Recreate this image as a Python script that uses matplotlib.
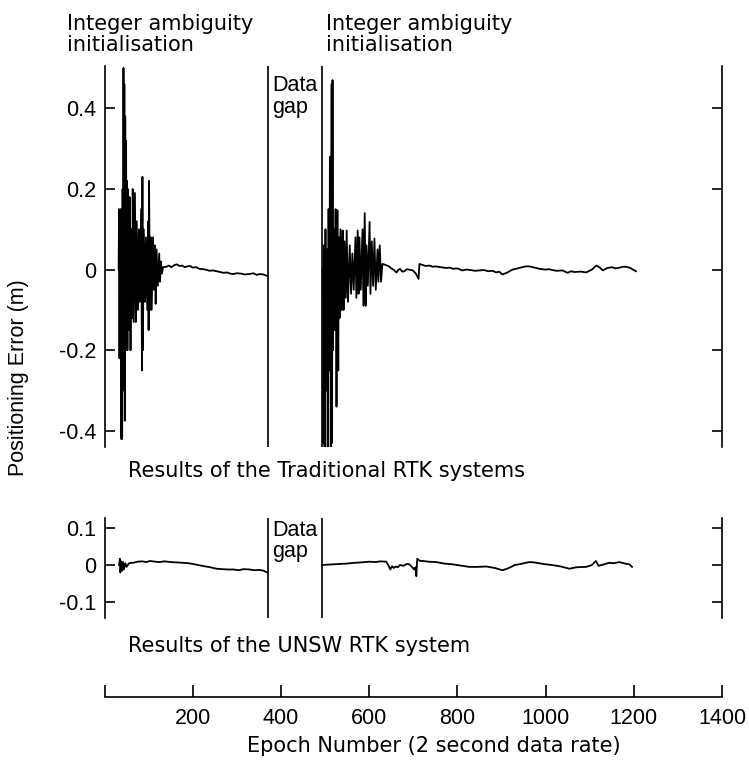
import matplotlib
matplotlib.use('Agg')
from matplotlib import pyplot as plt

plt.rcParams['font.family'] = ['Liberation Sans', 'DejaVu Sans']

# Traditional RTK, before the data gap (epoch, error in m)
trad_x1 = [32, 33, 34, 35, 36, 37, 38, 39, 40, 41, 42, 43, 44, 45, 46, 47, 48, 49, 50, 51, 52, 53, 55, 57, 59,
           61, 63, 64, 66, 69, 71, 73, 76, 78, 80, 83, 85, 86, 87, 89, 92, 94, 97, 99, 100, 101, 103, 105, 107,
           110, 112, 114, 116, 118, 121, 124, 126, 128, 130, 133,
           140, 146, 152, 158, 164, 170, 176, 182, 188, 194, 200, 208, 215, 222, 230, 238, 246, 254, 262, 270,
           278, 285, 292, 300, 310, 318, 329, 337, 345, 352, 360, 367, 370]
trad_y1 = [0.0, 0.15, -0.22, 0.12, -0.2, 0.15, -0.42, 0.1, -0.42, 0.2, -0.3, 0.5, -0.1, 0.46, -0.375, 0.38,
           -0.2, 0.32, -0.18, 0.22, -0.2, 0.2, -0.15, 0.18, -0.2, 0.1, -0.12, 0.2, -0.13, 0.19, -0.13, 0.12,
           -0.1, 0.1, -0.08, 0.15, -0.25, 0.23, -0.2, 0.1, -0.08, 0.08, -0.1, 0.12, -0.15, 0.22, -0.1, 0.08,
           -0.1, 0.08, -0.05, 0.06, -0.085, 0.05, -0.04, 0.04, -0.03, 0.02, -0.01, 0.006,
           0.007, 0.01, 0.006, 0.011, 0.013, 0.009, 0.01, 0.006, 0.008, 0.009, 0.005, 0.006, 0.002, 0.001,
           0.0, -0.003, -0.002, -0.004, -0.006, -0.008, -0.007, -0.01, -0.011, -0.009, -0.01, -0.012, -0.011,
           -0.009, -0.013, -0.011, -0.012, -0.015, -0.016]

# Traditional RTK, after the data gap
trad_x2 = [495, 496, 497, 499, 501, 503, 505, 506, 508, 510, 511, 513, 515, 516, 517, 518, 520, 522, 524, 526,
           528, 530, 531, 533, 535, 538, 540, 542, 544, 547, 549, 552, 556, 559, 562, 565, 569, 571, 574, 576,
           578, 581, 585, 587, 590, 592, 594, 597, 601, 603, 606, 609, 612, 615, 619, 621, 624, 627, 630,
           636, 645, 650, 655, 662, 666, 670, 675, 680, 685, 690, 699, 706, 712, 714, 720, 728, 737, 744, 750,
           762, 775, 783, 790, 800, 811, 820, 830, 840, 850, 860, 870, 880, 888, 895, 902, 912, 925, 933, 940,
           955, 963, 975, 986, 1000, 1008, 1015, 1025, 1038, 1050, 1058, 1065, 1080, 1092, 1105, 1115, 1122,
           1130, 1140, 1151, 1158, 1165, 1175, 1182, 1190, 1195, 1205]
trad_y2 = [0.0, -0.43, 0.06, -0.44, 0.1, -0.3, 0.05, -0.44, 0.15, -0.25, 0.28, -0.44, 0.46, -0.43, 0.47, -0.2,
           0.1, -0.15, 0.15, -0.34, 0.147, -0.25, 0.08, -0.12, 0.1, -0.1, 0.097, -0.1, 0.07, -0.07, 0.097,
           -0.08, 0.06, -0.06, 0.04, -0.05, 0.08, -0.07, 0.097, -0.06, 0.08, -0.05, 0.1, -0.09, 0.14, -0.09,
           0.06, -0.04, 0.118, -0.06, 0.07, -0.04, 0.077, -0.05, 0.05, -0.03, 0.06, -0.03, 0.014,
           0.012, 0.008, 0.003, 0.0, -0.007, -0.001, 0.002, -0.005, -0.004, 0.001, 0.0, -0.002, -0.01, -0.023,
           0.014, 0.012, 0.009, 0.01, 0.007, 0.008, 0.006, 0.004, 0.005, 0.002, 0.003, -0.002, 0.0, -0.001,
           -0.003, -0.002, -0.001, -0.004, -0.003, -0.007, -0.005, -0.012, -0.008, 0.0, 0.002, 0.004, 0.008,
           0.008, 0.005, 0.002, 0.0, 0.001, -0.001, -0.003, -0.002, -0.008, -0.004, -0.006, -0.005, -0.007,
           0.0, 0.01, 0.006, -0.002, 0.004, 0.006, 0.003, 0.004, 0.007, 0.007, 0.005, 0.002, -0.004]

# UNSW RTK, before the data gap
unsw_x1 = [33, 35, 36, 38, 40, 42, 44, 47, 50, 55, 60, 65, 75, 85, 95, 103, 115, 125, 135, 150, 165, 178, 190,
           200, 216, 230, 240, 254, 265, 280, 292, 305, 315, 329, 340, 350, 360, 367, 370]
unsw_y1 = [0.0, 0.017, -0.02, 0.01, -0.015, 0.008, -0.012, 0.005, -0.005, 0.004, 0.006, 0.006, 0.009, 0.01,
           0.008, 0.011, 0.009, 0.008, 0.01, 0.008, 0.007, 0.006, 0.005, 0.003, -0.001, -0.004, -0.006, -0.01,
           -0.011, -0.012, -0.012, -0.014, -0.011, -0.012, -0.014, -0.013, -0.015, -0.019, -0.02]

# UNSW RTK, after the data gap
unsw_x2 = [494, 505, 520, 535, 550, 567, 580, 601, 615, 625, 639, 645, 648, 652, 656, 660, 665, 670, 678, 685,
           691, 697, 702, 705, 707, 709, 715, 721, 735, 752, 770, 789, 805, 827, 845, 866, 885, 902, 915, 930,
           940, 963, 975, 990, 1000, 1015, 1035, 1054, 1070, 1092, 1105, 1114, 1120, 1130, 1144, 1155, 1167,
           1180, 1190, 1196]
unsw_y2 = [0.0, 0.001, 0.002, 0.003, 0.004, 0.006, 0.007, 0.009, 0.008, 0.01, 0.009, -0.004, -0.012, -0.003,
           -0.008, -0.004, -0.006, 0.0, -0.002, 0.003, 0.002, -0.005, -0.012, -0.006, -0.03, 0.017, 0.011,
           0.011, 0.009, 0.008, 0.004, 0.002, -0.001, -0.005, -0.005, -0.004, -0.008, -0.014, -0.009, 0.0,
           0.002, 0.008, 0.007, 0.004, 0.002, 0.0, -0.004, -0.01, -0.006, -0.005, 0.0, 0.011, -0.002, 0.001,
           0.006, 0.005, 0.008, 0.004, 0.002, -0.005]

gap = [370, 492]
xticks = [0, 200, 400, 600, 800, 1000, 1200, 1400]
xticklabels = ['', '200', '400', '600', '800', '1000', '1200', '1400']

W, H = 749, 762
FS = 15.5
WIDE = 'DejaVu Sans'


def fx(px):
    return px / W


def fy(py):
    return 1 - py / H


def panel(rect, ylim, yticks, yticklabels):
    ax = fig.add_axes(rect)
    ax.set_xlim(0, 1400)
    ax.set_ylim(*ylim)
    ax.spines['top'].set_visible(False)
    ax.spines['bottom'].set_visible(False)
    for s in ('left', 'right'):
        ax.spines[s].set_linewidth(1.2)
    ax.set_xticks([])
    ax.set_yticks(yticks)
    ax.set_yticklabels(yticklabels)
    ax.tick_params(axis='y', direction='in', left=True, right=True, length=7, width=1.2,
                   labelsize=FS, pad=6)
    for g in gap:
        ax.axvline(g, color='black', lw=1.2)
    return ax


fig = plt.figure(figsize=(W / 100, H / 100), dpi=100)

ax1 = panel([fx(104.5), fy(447), fx(617.5), 381 / H], (-0.44, 0.505),
            [-0.4, -0.2, 0, 0.2, 0.4], ['-0.4', '-0.2', '0', '0.2', '0.4'])
ax1.plot(trad_x1, trad_y1, color='black', lw=1.3)
ax1.plot(trad_x2, trad_y2, color='black', lw=1.3)

ax2 = panel([fx(104.5), fy(618), fx(617.5), 100 / H], (-0.143, 0.127),
            [-0.1, 0, 0.1], ['-0.1', '0', '0.1'])
ax2.plot(unsw_x1, unsw_y1, color='black', lw=1.3)
ax2.plot(unsw_x2, unsw_y2, color='black', lw=1.3)

# separate x axis at the bottom
ax3 = fig.add_axes([fx(104.5), fy(697), fx(617.5), 0.0001])
ax3.set_xlim(0, 1400)
for s in ('top', 'left', 'right'):
    ax3.spines[s].set_visible(False)
ax3.spines['bottom'].set_linewidth(1.2)
ax3.set_yticks([])
ax3.set_xticks(xticks)
ax3.set_xticklabels(xticklabels)
ax3.tick_params(axis='x', direction='in', length=9, width=1.2, labelsize=FS, pad=8)
ax3.patch.set_visible(False)


def label(px, py, s, size=FS, family=None):
    kw = {'family': family} if family else {}
    fig.text(fx(px), fy(py), s, fontsize=size, va='baseline', ha='left', **kw)


label(67, 30, 'Integer ambiguity', 15, WIDE)
label(67, 51, 'initialisation', 15, WIDE)
label(326, 30, 'Integer ambiguity', 15, WIDE)
label(326, 51, 'initialisation', 15, WIDE)
label(272, 91, 'Data')
label(272, 113, 'gap')
label(272, 536, 'Data')
label(272, 557, 'gap')
label(128, 477, 'Results of the Traditional RTK systems', 15, WIDE)
label(128, 652, 'Results of the UNSW RTK system', 15, WIDE)
fig.text(fx(434), fy(752), 'Epoch Number (2 second data rate)', fontsize=15, family=WIDE,
         ha='center', va='baseline')
fig.text(fx(19), fy(378), 'Positioning Error (m)', fontsize=FS, rotation=90, ha='center', va='center')

plt.savefig('out.png', dpi=100)
